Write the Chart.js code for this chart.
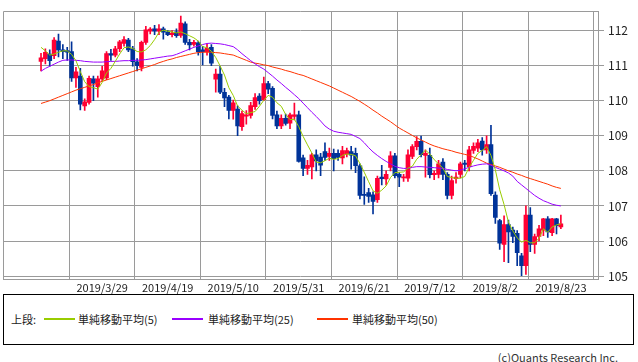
<!DOCTYPE html>
<html>
<head>
<meta charset="utf-8">
<script src="https://cdn.jsdelivr.net/npm/chart.js@4.4.0/dist/chart.umd.min.js"></script>
<style>
  body { margin: 0; background: #fff; font-family: "Noto Sans CJK JP", sans-serif; }
  #wrap { position: relative; width: 638px; height: 362px; }
  #c { position: absolute; left: 0; top: 0; }
  #legend { position: absolute; left: 3px; top: 294px; width: 629px; height: 49px; border: 1px solid #000; font-size: 11px; color: #222; }
  #legend span { position: absolute; top: 16px; white-space: nowrap; }
  #legend .ln { position: absolute; top: 23px; height: 2px; width: 31px; }
  #copy { position: absolute; right: 20px; top: 349px; font-size: 11px; color: #333; }
</style>
</head>
<body>
<div id="wrap">
  <canvas id="c" width="638" height="294"></canvas>
  <div id="legend">
    <span style="left:7px">上段:</span>
    <div class="ln" style="left:40px;background:#99cc00"></div><span style="left:74px">単純移動平均(5)</span>
    <div class="ln" style="left:168px;background:#9900ff"></div><span style="left:204px">単純移動平均(25)</span>
    <div class="ln" style="left:313px;background:#ff3300"></div><span style="left:348px">単純移動平均(50)</span>
  </div>
  <div id="copy">(c)Quants Research Inc.</div>
</div>
<script>
// ドル円 日足 2019/3/11 - 2019/8/23 (index = 営業日)
const tickPos = [14, 29, 44, 59, 74, 89, 104, 119];
const tickLabels = ["2019/3/29", "2019/4/19", "2019/5/10", "2019/5/31", "2019/6/21", "2019/7/12", "2019/8/2", "2019/8/23"];
const yTicks = [105, 106, 107, 108, 109, 110, 111, 112];

const open = [111.12,111.20,111.33,111.28,111.70,111.45,111.43,111.40,110.65,110.70,
  109.85,109.95,110.62,110.40,110.62,110.65,111.34,111.30,111.48,111.63,
  111.73,111.48,111.11,110.95,111.66,111.98,112.05,111.98,112.05,111.96,
  111.88,111.96,111.86,112.19,111.66,111.60,111.65,111.45,111.40,111.52,
  110.61,110.76,110.24,110.10,109.72,109.76,109.26,109.56,109.58,109.83,
  110.13,110.03,110.49,110.35,109.60,109.28,109.50,109.36,109.55,109.60,
  108.37,108.07,108.11,108.46,108.39,108.55,108.41,108.50,108.50,108.37,
  108.48,108.55,108.50,108.14,107.32,107.38,107.32,107.18,107.82,107.77,
  108.10,108.43,107.90,107.80,107.79,108.41,108.69,108.84,108.44,108.44,
  107.89,107.90,108.25,107.90,107.30,107.78,107.90,108.22,108.12,108.58,
  108.65,108.85,108.60,108.75,107.31,106.58,105.90,106.47,106.31,106.22,
  105.58,105.30,106.74,105.90,106.13,106.31,106.63,106.24,106.63,106.40];
const high = [111.35,111.48,111.45,111.80,111.90,111.60,111.52,111.68,110.95,110.92,
  110.05,110.70,110.70,110.70,110.98,111.40,111.46,111.55,111.72,111.83,
  111.78,111.55,111.20,111.70,112.12,112.08,112.15,112.17,112.10,112.00,
  112.00,112.05,112.41,112.25,111.75,111.72,111.70,111.55,111.62,111.60,
  110.90,110.98,110.35,110.15,110.02,109.85,109.70,109.72,109.95,110.20,
  110.20,110.67,110.55,110.40,109.70,109.60,109.62,109.65,109.93,109.70,
  108.45,108.30,108.50,108.60,108.50,108.80,108.65,108.62,108.60,108.70,
  108.65,108.70,108.65,108.20,107.83,107.50,107.40,107.85,108.16,108.00,
  108.55,108.50,107.95,107.90,108.60,108.75,108.98,108.99,108.60,108.65,
  108.00,108.30,108.35,107.95,107.85,107.95,108.25,108.30,108.70,108.80,
  108.90,108.95,109.00,109.30,107.40,106.62,106.72,106.60,106.40,106.30,
  105.65,107.00,106.95,106.20,106.45,106.65,106.70,106.65,106.65,106.74];
const low = [110.85,111.05,110.98,111.20,111.25,111.20,111.15,110.55,110.38,109.74,
  109.72,109.90,110.00,110.10,110.55,110.60,111.15,111.25,111.40,111.55,
  111.40,110.98,110.85,110.85,111.60,111.90,111.88,111.88,111.75,111.85,
  111.82,111.80,111.80,111.60,111.45,111.55,111.30,111.02,111.30,111.00,
  110.24,110.20,109.83,109.48,109.47,109.00,109.15,109.33,109.50,109.75,
  109.90,110.00,110.20,109.48,109.20,109.20,109.30,109.20,109.45,108.25,
  107.86,107.90,107.77,108.00,107.86,108.30,108.30,108.00,108.30,108.20,
  108.40,108.05,107.95,107.20,107.04,107.10,106.77,107.10,107.60,107.60,
  108.00,107.80,107.55,107.70,107.70,108.35,108.60,108.40,107.82,107.80,
  107.75,107.80,107.75,107.20,107.20,107.65,107.80,108.00,108.00,108.50,
  108.55,108.45,108.50,107.30,106.50,105.76,105.41,105.38,105.95,105.30,
  105.01,105.05,105.70,105.65,106.00,106.15,106.10,106.15,106.20,106.35];
const close = [111.22,111.38,111.14,111.73,111.45,111.40,111.38,110.65,110.82,109.90,
  109.97,110.64,110.50,110.62,110.85,111.34,111.30,111.48,111.68,111.74,
  111.45,111.11,111.00,111.66,112.02,112.04,111.98,112.05,111.95,111.88,
  111.93,111.85,112.21,111.66,111.59,111.66,111.40,111.40,111.50,111.07,
  110.76,110.24,110.08,109.72,109.94,109.28,109.63,109.60,109.86,110.09,
  110.00,110.49,110.33,109.58,109.28,109.50,109.35,109.60,109.60,108.27,
  108.07,108.16,108.46,108.28,108.16,108.38,108.50,108.35,108.38,108.58,
  108.58,108.45,108.15,107.30,107.30,107.27,107.13,107.79,107.78,107.90,
  108.43,107.86,107.82,107.83,108.46,108.69,108.84,108.46,108.50,107.89,
  107.93,108.20,107.90,107.30,107.72,107.82,108.20,108.18,108.60,108.70,
  108.80,108.60,108.75,107.35,106.67,105.94,106.47,106.26,106.13,105.67,
  105.30,106.74,105.90,106.13,106.35,106.63,106.26,106.63,106.44,106.49];

const ma5 = [111.52,111.42,111.30,111.33,111.38,111.42,111.42,111.32,111.14,110.83,
  110.54,110.40,110.37,110.33,110.52,110.79,110.92,111.12,111.33,111.51,
  111.53,111.49,111.40,111.39,111.45,111.57,111.74,111.95,112.01,111.98,
  111.96,111.93,111.96,111.91,111.85,111.79,111.70,111.54,111.51,111.41,
  111.23,110.99,110.73,110.37,110.15,109.85,109.73,109.63,109.66,109.69,
  109.84,110.01,110.15,110.10,109.94,109.84,109.61,109.46,109.47,109.26,
  108.98,108.74,108.51,108.25,108.23,108.29,108.36,108.33,108.35,108.44,
  108.48,108.47,108.43,108.21,107.96,107.69,107.43,107.36,107.45,107.57,
  107.81,107.95,107.96,107.97,108.08,108.13,108.33,108.46,108.59,108.48,
  108.32,108.20,108.08,107.84,107.81,107.79,107.79,107.84,108.10,108.30,
  108.50,108.58,108.69,108.44,108.03,107.46,107.04,106.54,106.29,106.09,
  105.97,106.02,105.95,105.95,106.08,106.35,106.25,106.40,106.46,106.49];
const ma25 = [110.84,110.92,110.98,111.04,111.10,111.15,111.16,111.16,111.15,111.14,
  111.12,111.11,111.10,111.10,111.10,111.11,111.12,111.12,111.13,111.14,
  111.14,111.15,111.15,111.16,111.17,111.19,111.21,111.23,111.25,111.27,
  111.28,111.32,111.37,111.42,111.47,111.52,111.56,111.60,111.63,111.64,
  111.63,111.62,111.60,111.57,111.54,111.45,111.34,111.24,111.14,111.05,
  110.97,110.90,110.80,110.70,110.59,110.49,110.38,110.28,110.17,110.06,
  109.93,109.80,109.67,109.55,109.42,109.28,109.19,109.13,109.10,109.08,
  109.06,109.04,108.98,108.92,108.80,108.66,108.54,108.44,108.35,108.27,
  108.20,108.13,108.09,108.07,108.07,108.10,108.12,108.12,108.11,108.10,
  108.09,108.08,108.07,108.04,108.02,108.00,108.02,108.06,108.10,108.14,
  108.17,108.19,108.20,108.16,108.10,108.05,108.00,107.94,107.85,107.70,
  107.60,107.50,107.40,107.30,107.22,107.15,107.10,107.05,107.02,107.00];
const ma50 = [109.92,109.96,110.00,110.05,110.10,110.15,110.20,110.25,110.30,110.34,
  110.38,110.42,110.46,110.51,110.55,110.59,110.63,110.67,110.71,110.75,
  110.79,110.83,110.87,110.91,110.95,110.99,111.03,111.08,111.12,111.16,
  111.19,111.23,111.26,111.29,111.32,111.35,111.37,111.38,111.38,111.38,
  111.37,111.36,111.34,111.32,111.30,111.25,111.20,111.15,111.10,111.07,
  111.05,111.02,111.00,110.96,110.93,110.90,110.86,110.83,110.79,110.75,
  110.72,110.67,110.62,110.57,110.52,110.47,110.42,110.36,110.30,110.24,
  110.18,110.12,110.05,109.98,109.90,109.82,109.73,109.65,109.56,109.48,
  109.40,109.31,109.22,109.15,109.08,109.01,108.94,108.88,108.82,108.76,
  108.71,108.67,108.63,108.60,108.57,108.53,108.50,108.47,108.44,108.39,
  108.34,108.28,108.22,108.18,108.14,108.10,108.05,108.00,107.96,107.91,
  107.87,107.82,107.78,107.74,107.70,107.66,107.62,107.57,107.53,107.50];

const RED = "#ff0033";
const BLUE = "#003399";
const GRID = "#9a9a9a";

const candleColor = (ctx) => close[ctx.dataIndex] >= open[ctx.dataIndex] ? RED : BLUE;
const pts = (arr) => arr.map((v, i) => ({ x: i, y: v }));

// 左と上の枠線
const frame = {
  id: "frame",
  beforeDatasetsDraw(chart) {
    const { ctx, chartArea: a } = chart;
    ctx.save();
    ctx.strokeStyle = GRID;
    ctx.lineWidth = 1;
    ctx.beginPath();
    ctx.moveTo(Math.round(a.left) + 0.5, a.bottom);
    ctx.lineTo(Math.round(a.left) + 0.5, Math.round(a.top) + 0.5);
    ctx.lineTo(a.right, Math.round(a.top) + 0.5);
    ctx.stroke();
    ctx.restore();
  }
};

Chart.defaults.font.family = '"Noto Sans CJK JP", sans-serif';
Chart.defaults.font.size = 11;
Chart.defaults.color = "#222";

new Chart(document.getElementById("c"), {
  type: "bar",
  data: {
    datasets: [
      { type: "line", data: pts(ma5), borderColor: "#99cc00", borderWidth: 1, pointRadius: 0, order: 0 },
      { type: "line", data: pts(ma25), borderColor: "#9900ff", borderWidth: 1, pointRadius: 0, order: 0 },
      { type: "line", data: pts(ma50), borderColor: "#ff3300", borderWidth: 1, pointRadius: 0, order: 0 },
      {
        data: low.map((v, i) => ({ x: i, y: [v, high[i]] })),
        backgroundColor: candleColor, barThickness: 1, grouped: false, order: 2
      },
      {
        data: open.map((v, i) => ({ x: i, y: [v, close[i]] })),
        backgroundColor: candleColor, barThickness: 4, minBarLength: 1, grouped: false, order: 1
      }
    ]
  },
  options: {
    responsive: false,
    animation: false,
    layout: { padding: { left: 3, top: 1, right: 0, bottom: 0 } },
    plugins: { legend: { display: false }, tooltip: { enabled: false } },
    scales: {
      x: {
        type: "linear",
        min: -8.7,
        max: 127.5,
        offset: false,
        afterBuildTicks: (s) => { s.ticks = tickPos.map((v) => ({ value: v })); },
        afterFit: (s) => { s.height = 15; },
        ticks: {
          autoSkip: false, maxRotation: 0, padding: 2,
          callback: (v) => tickLabels[tickPos.indexOf(v)]
        },
        grid: { color: GRID, drawTicks: false },
        border: { color: GRID }
      },
      y: {
        position: "right",
        min: 104.918,
        max: 112.55,
        afterBuildTicks: (s) => { s.ticks = yTicks.map((v) => ({ value: v })); },
        afterFit: (s) => { s.width = 40; },
        ticks: { padding: 4, font: { size: 12 } },
        grid: { color: GRID, tickLength: 6 },
        border: { color: GRID }
      }
    }
  },
  plugins: [frame]
});
</script>
</body>
</html>
